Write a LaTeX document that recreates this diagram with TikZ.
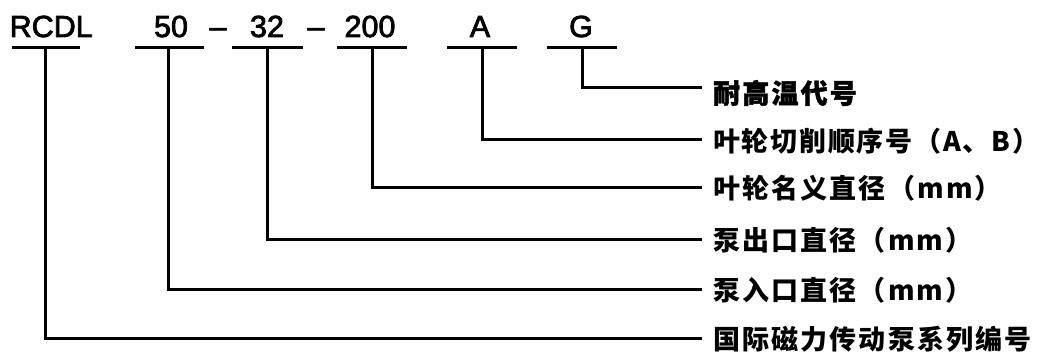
\documentclass[tikz,border=0pt]{standalone}
\usepackage{fontspec}
\setmainfont{Liberation Sans}
\newfontfamily\codefont{Liberation Sans}
\newfontfamily\cjk{Noto Sans CJK SC}[LetterSpace=8]
\newfontfamily\cjknarrow{Noto Sans CJK SC}[LetterSpace=6.5]
\begin{document}
\begin{tikzpicture}[x=1pt,y=-1pt,
  codetext/.style={inner sep=0pt,anchor=base,font=\codefont\fontsize{30.5}{30.5}\selectfont\addfontfeatures{FakeBold=2.5}},
  ulinestyle/.style={line width=3pt},
  leader/.style={line width=3pt},
  labeltext/.style={inner sep=0pt,anchor=west,font=\cjk\bfseries\fontsize{27}{27}\selectfont}]
\useasboundingbox (0,0) rectangle (1039,352);
% codes
\node[codetext,anchor=base west] (c1) at (9.5,37) {RCDL};
\node[codetext] (c2) at (171,37) {50};
\node[codetext] (s1) at (218,37) {–};
\node[codetext] (c3) at (267,37) {32};
\node[codetext] (s2) at (316,37) {–};
\node[codetext] (c4) at (370,37) {200};
\node[codetext] (c5) at (480,37) {A};
\node[codetext] (c6) at (581,37) {G};
% underlines
\draw[ulinestyle] (12,47.5) -- (80,47.5);
\draw[ulinestyle] (135,47.5) -- (204,47.5);
\draw[ulinestyle] (232,47.5) -- (303,47.5);
\draw[ulinestyle] (337,47.5) -- (407,47.5);
\draw[ulinestyle] (447,47.5) -- (517,47.5);
\draw[ulinestyle] (547,47.5) -- (617,47.5);
\coordinate (u1) at (45,47.5);
\coordinate (u2) at (168,47.5);
\coordinate (u3) at (267,47.5);
\coordinate (u4) at (372,47.5);
\coordinate (u5) at (482,47.5);
\coordinate (u6) at (582,47.5);
% labels
\node[labeltext] (l6) at (713,93) {\addfontfeatures{FakeBold=1.5}耐高温代号};
\node[labeltext,font=\cjknarrow\bfseries\fontsize{27}{27}\selectfont] (l5) at (713,141) {叶轮切削顺序号（A、B）};
\node[labeltext] (l4) at (713,188) {叶轮名义直径（mm）};
\node[labeltext] (l3) at (713,240) {泵出口直径（mm）};
\node[labeltext] (l2) at (713,290) {泵入口直径（mm）};
\node[labeltext] (l1) at (713,339) {国际磁力传动泵系列编号};
\coordinate (e6) at (702,88);
\coordinate (e5) at (702,140);
\coordinate (e4) at (702,188);
\coordinate (e3) at (702,240);
\coordinate (e2) at (702,290);
\coordinate (e1) at (702,339);
% leaders
\draw[leader] (u6) |- (e6);
\draw[leader] (u5) |- (e5);
\draw[leader] (u4) |- (e4);
\draw[leader] (u3) |- (e3);
\draw[leader] (u2) |- (e2);
\draw[leader] (u1) |- (e1);
\end{tikzpicture}
\end{document}
